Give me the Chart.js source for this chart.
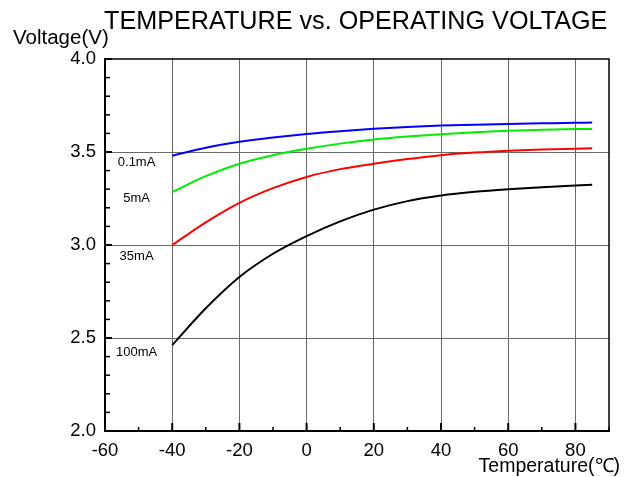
<!DOCTYPE html>
<html>
<head>
<meta charset="utf-8">
<script src="https://cdn.jsdelivr.net/npm/chart.js@4/dist/chart.umd.min.js"></script>
<style>
  body { margin: 0; background: #fff; }
  canvas { display: block; }
</style>
</head>
<body>
<canvas id="voltChart" width="640" height="477"></canvas>
<script>
// temperature (°C) and voltage (V)
const temps = [-40, -30, -20, -10, 0, 10, 20, 30, 40, 50, 60, 70, 80, 85];
const v01mA = [3.480, 3.523, 3.555, 3.578, 3.597, 3.612, 3.625, 3.635, 3.642, 3.647, 3.651, 3.654, 3.657, 3.658];
const v5mA = [3.285, 3.370, 3.437, 3.483, 3.517, 3.545, 3.567, 3.583, 3.596, 3.606, 3.614, 3.619, 3.623, 3.624];
const v35mA = [3.000, 3.122, 3.227, 3.306, 3.366, 3.408, 3.437, 3.462, 3.483, 3.497, 3.507, 3.514, 3.518, 3.520];
const v100mA = [2.462, 2.660, 2.828, 2.953, 3.048, 3.127, 3.190, 3.236, 3.266, 3.286, 3.300, 3.311, 3.320, 3.324];

const seriesNames = ['0.1mA', '5mA', '35mA', '100mA'];
const xTickValues = [-60, -40, -20, 0, 20, 40, 60, 80];
const yTickValues = [2.0, 2.5, 3.0, 3.5, 4.0];

const FONT = "'Liberation Sans', Arial, sans-serif";

function toPoints(vals) {
  return temps.map((t, i) => ({ x: t, y: vals[i] }));
}

// where each current label sits, in data units
const labelSpots = [
  { x: -50.6, y: 3.446 },
  { x: -50.6, y: 3.253 },
  { x: -50.6, y: 2.941 },
  { x: -50.6, y: 2.425 }
];

const decorPlugin = {
  id: 'decor',
  afterDraw(chart) {
    const { ctx, chartArea: a, scales } = chart;
    const xs = scales.x, ys = scales.y;
    ctx.save();

    // frame top/right
    ctx.strokeStyle = '#000';
    ctx.lineWidth = 1.5;
    ctx.beginPath();
    ctx.moveTo(a.left, a.top);
    ctx.lineTo(a.right, a.top);
    ctx.lineTo(a.right, a.bottom);
    ctx.stroke();

    // inward ticks on bottom axis, every 10
    for (let t = -60; t <= 90; t += 10) {
      const px = xs.getPixelForValue(t);
      const major = t % 20 === 0;
      ctx.lineWidth = major ? 2 : 1.5;
      ctx.beginPath();
      ctx.moveTo(px, a.bottom);
      ctx.lineTo(px, a.bottom - (major ? 8 : 4));
      ctx.stroke();
    }
    // inward ticks on left axis, every 0.1
    for (let k = 20; k <= 40; k++) {
      const py = ys.getPixelForValue(k / 10);
      const major = k % 5 === 0;
      ctx.lineWidth = major ? 2 : 1.5;
      ctx.beginPath();
      ctx.moveTo(a.left, py);
      ctx.lineTo(a.left + (major ? 7 : 5), py);
      ctx.stroke();
    }

    // current labels
    ctx.fillStyle = '#000';
    ctx.font = '13px ' + FONT;
    ctx.textAlign = 'center';
    ctx.textBaseline = 'middle';
    seriesNames.forEach((n, i) => {
      ctx.fillText(n, xs.getPixelForValue(labelSpots[i].x), ys.getPixelForValue(labelSpots[i].y));
    });

    // title and axis titles
    ctx.textBaseline = 'alphabetic';
    ctx.font = '25.2px ' + FONT;
    ctx.textAlign = 'left';
    ctx.fillText('TEMPERATURE vs. OPERATING VOLTAGE', 104, 29);
    ctx.font = '20.5px ' + FONT;
    ctx.fillText('Voltage(V)', 13, 44);
    ctx.font = '19.5px ' + FONT;
    ctx.textAlign = 'right';
    ctx.fillText('Temperature(\u2103)', 620, 472);
    ctx.restore();
  }
};

new Chart(document.getElementById('voltChart'), {
  type: 'line',
  data: {
    datasets: [
      { label: seriesNames[0], data: toPoints(v01mA), borderColor: '#0000ff' },
      { label: seriesNames[1], data: toPoints(v5mA), borderColor: '#00ee00' },
      { label: seriesNames[2], data: toPoints(v35mA), borderColor: '#ff0000' },
      { label: seriesNames[3], data: toPoints(v100mA), borderColor: '#000000' }
    ]
  },
  options: {
    responsive: false,
    animation: false,
    devicePixelRatio: 1,
    layout: { padding: { left: 0, right: 31, top: 59, bottom: 0 } },
    elements: {
      line: { borderWidth: 2, cubicInterpolationMode: 'monotone', fill: false },
      point: { radius: 0 }
    },
    plugins: {
      legend: { display: false },
      tooltip: { enabled: false },
      title: { display: false }
    },
    scales: {
      x: {
        type: 'linear',
        min: -60,
        max: 90,
        afterBuildTicks: (s) => { s.ticks = xTickValues.map(v => ({ value: v })); },
        afterFit: (s) => { s.height = 46; },
        border: { color: '#000', width: 2 },
        grid: {
          drawTicks: false,
          color: (c) => (c.tick && c.tick.value === -60 ? 'rgba(0,0,0,0)' : '#6a6a6a'),
          lineWidth: 1
        },
        ticks: {
          padding: 9,
          color: '#000',
          maxRotation: 0,
          autoSkip: false,
          font: { family: FONT, size: 18.5 },
          callback: (v) => String(v)
        }
      },
      y: {
        type: 'linear',
        min: 2.0,
        max: 4.0,
        afterBuildTicks: (s) => { s.ticks = yTickValues.map(v => ({ value: v })); },
        afterFit: (s) => { s.width = 105; },
        border: { color: '#000', width: 2 },
        grid: {
          drawTicks: false,
          color: (c) => (c.tick && (c.tick.value === 2.0 || c.tick.value === 4.0) ? 'rgba(0,0,0,0)' : '#6a6a6a'),
          lineWidth: 1
        },
        ticks: {
          padding: 9,
          color: '#000',
          font: { family: FONT, size: 18.5 },
          callback: (v) => Number(v).toFixed(1)
        }
      }
    }
  },
  plugins: [decorPlugin]
});
</script>
</body>
</html>
